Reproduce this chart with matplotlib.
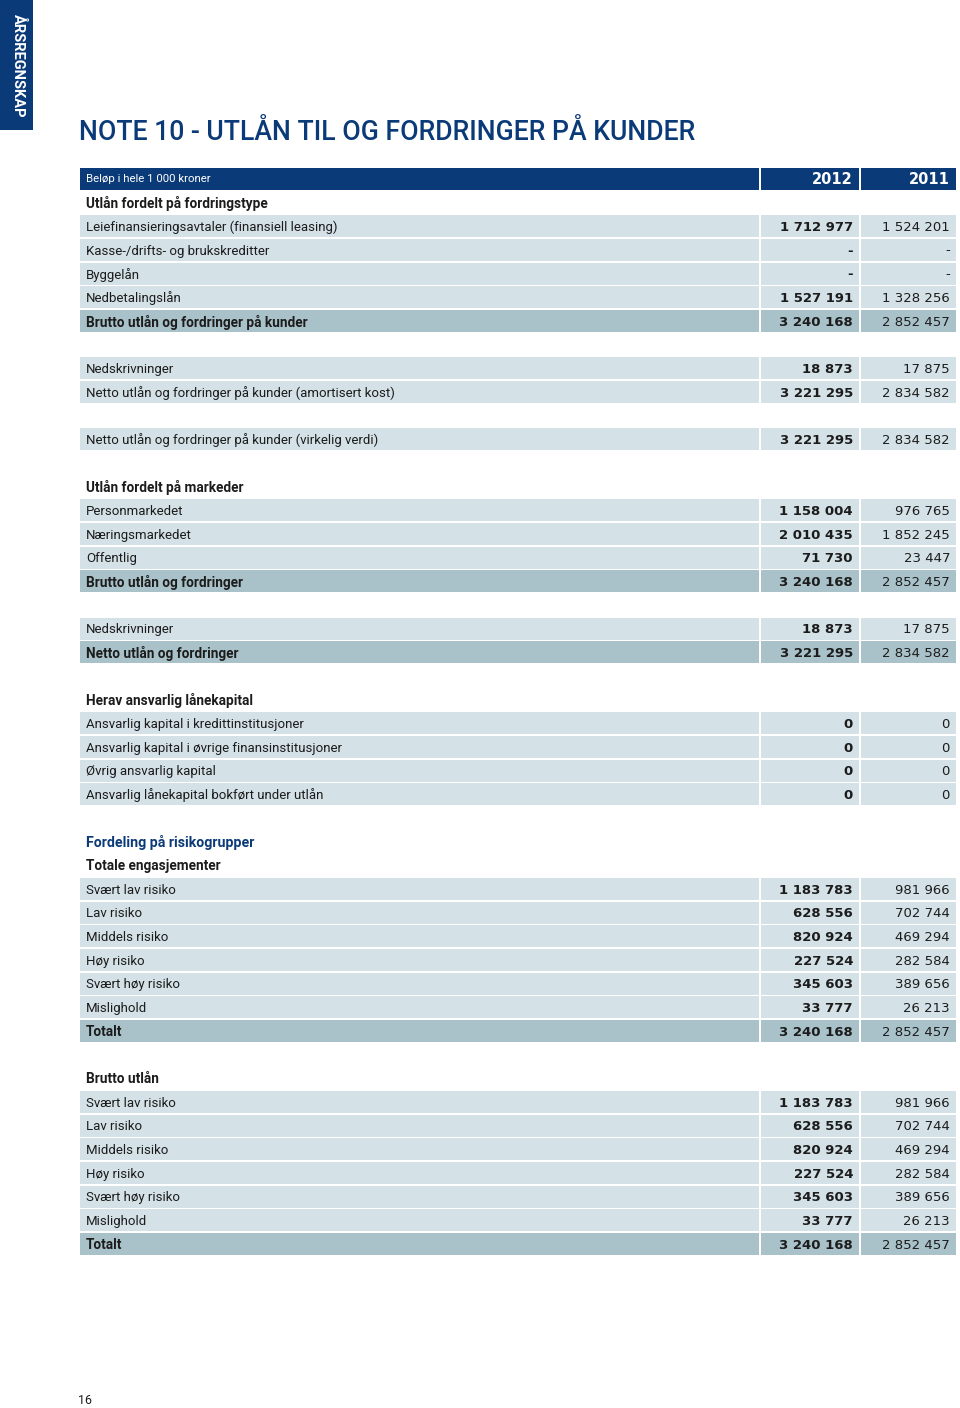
"""Note 10 - utlan til og fordringer pa kunder, gjenskapt som tabell."""

import matplotlib
matplotlib.use("Agg")
import matplotlib.pyplot as plt
from matplotlib.patches import Rectangle

plt.rcParams["font.family"] = ["Roboto", "DejaVu Sans"]

# Radtyper: "overskrift" (fet, uten bakgrunn), "bla" (bla fet overskrift),
# "rad" (lys bakgrunn), "sum" (mork bakgrunn, fet tekst), "tom" (mellomrom)
etiketter = [
    "Utlån fordelt på fordringstype",
    "Leiefinansieringsavtaler (finansiell leasing)",
    "Kasse-/drifts- og brukskreditter",
    "Byggelån",
    "Nedbetalingslån",
    "Brutto utlån og fordringer på kunder",
    "",
    "Nedskrivninger",
    "Netto utlån og fordringer på kunder (amortisert kost)",
    "",
    "Netto utlån og fordringer på kunder (virkelig verdi)",
    "",
    "Utlån fordelt på markeder",
    "Personmarkedet",
    "Næringsmarkedet",
    "Offentlig",
    "Brutto utlån og fordringer",
    "",
    "Nedskrivninger",
    "Netto utlån og fordringer",
    "",
    "Herav ansvarlig lånekapital",
    "Ansvarlig kapital i kredittinstitusjoner",
    "Ansvarlig kapital i øvrige finansinstitusjoner",
    "Øvrig ansvarlig kapital",
    "Ansvarlig lånekapital bokført under utlån",
    "",
    "Fordeling på risikogrupper",
    "Totale engasjementer",
    "Svært lav risiko",
    "Lav risiko",
    "Middels risiko",
    "Høy risiko",
    "Svært høy risiko",
    "Mislighold",
    "Totalt",
    "",
    "Brutto utlån",
    "Svært lav risiko",
    "Lav risiko",
    "Middels risiko",
    "Høy risiko",
    "Svært høy risiko",
    "Mislighold",
    "Totalt",
]

radtyper = [
    "overskrift", "rad", "rad", "rad", "rad", "sum", "tom",
    "rad", "rad", "tom",
    "rad", "tom",
    "overskrift", "rad", "rad", "rad", "sum", "tom",
    "rad", "sum", "tom",
    "overskrift", "rad", "rad", "rad", "rad", "tom",
    "bla", "overskrift", "rad", "rad", "rad", "rad", "rad", "rad", "sum", "tom",
    "overskrift", "rad", "rad", "rad", "rad", "rad", "rad", "sum",
]

verdier_2012 = [
    "", "1 712 977", "-", "-", "1 527 191", "3 240 168", "",
    "18 873", "3 221 295", "",
    "3 221 295", "",
    "", "1 158 004", "2 010 435", "71 730", "3 240 168", "",
    "18 873", "3 221 295", "",
    "", "0", "0", "0", "0", "",
    "", "", "1 183 783", "628 556", "820 924", "227 524", "345 603", "33 777", "3 240 168", "",
    "", "1 183 783", "628 556", "820 924", "227 524", "345 603", "33 777", "3 240 168",
]

verdier_2011 = [
    "", "1 524 201", "-", "-", "1 328 256", "2 852 457", "",
    "17 875", "2 834 582", "",
    "2 834 582", "",
    "", "976 765", "1 852 245", "23 447", "2 852 457", "",
    "17 875", "2 834 582", "",
    "", "0", "0", "0", "0", "",
    "", "", "981 966", "702 744", "469 294", "282 584", "389 656", "26 213", "2 852 457", "",
    "", "981 966", "702 744", "469 294", "282 584", "389 656", "26 213", "2 852 457",
]

aar = ["2012", "2011"]

MORKBLA = "#0b3a78"
LYS = "#d4e1e7"
MORK = "#a9c2ca"
TEKST = "#1c1c1c"
TALL = ["DejaVu Sans"]

fig = plt.figure(figsize=(9.6, 14.08), dpi=100)
ax = fig.add_axes([0, 0, 1, 1])
ax.set_xlim(0, 960)
ax.set_ylim(1408, 0)
ax.axis("off")

# sidefane
ax.add_patch(Rectangle((0, 0), 33, 130, color=MORKBLA, lw=0))
ax.text(17.5, 14, "ÅRSREGNSKAP", rotation=270, color="white", fontsize=10.5,
        fontweight="bold", ha="center", va="top")

ax.text(79, 132, "NOTE 10 - UTLÅN TIL OG FORDRINGER PÅ KUNDER", color=MORKBLA,
        fontsize=19.2, fontweight=500, ha="left", va="center")

# kolonner
kol_x = [(80, 679), (761, 98), (861, 95)]
rad_h = 23.67
y0 = 179
boks_h = 22

# topprad
for x, w in kol_x:
    ax.add_patch(Rectangle((x, y0 - boks_h / 2), w, boks_h, color=MORKBLA, lw=0))
ax.text(86, y0, "Beløp i hele 1 000 kroner", color="white", fontsize=8.2,
        ha="left", va="center")
for (x, w), a in zip(kol_x[1:], aar):
    ax.text(x + w - 6, y0 + 1, a, color="white", fontsize=10.5, fontweight="bold",
            family=TALL, ha="right", va="center")

for i, (etikett, typ, v12, v11) in enumerate(zip(etiketter, radtyper, verdier_2012, verdier_2011)):
    y = y0 + (i + 1) * rad_h
    if typ == "tom":
        continue
    if typ in ("overskrift", "bla"):
        farge = MORKBLA if typ == "bla" else TEKST
        ax.text(86, y + 1, etikett, color=farge, fontsize=10.2 if typ == "bla" else 9.8,
                fontweight="bold", ha="left", va="center")
        continue
    bg = MORK if typ == "sum" else LYS
    for x, w in kol_x:
        ax.add_patch(Rectangle((x, y - boks_h / 2), w, boks_h, color=bg, lw=0))
    ax.text(86, y + 1, etikett, color=TEKST, fontsize=9.8 if typ == "sum" else 9.5,
            fontweight="bold" if typ == "sum" else "normal", ha="left", va="center")
    ax.text(853, y + 1, v12, color=TEKST, fontsize=9.5, fontweight="bold",
            family=TALL, ha="right", va="center")
    ax.text(950, y + 1, v11, color=TEKST, fontsize=9.5, family=TALL,
            ha="right", va="center")

ax.text(78, 1401, "16", color=TEKST, fontsize=9, ha="left", va="center")

fig.savefig("out.png", dpi=100)
plt.close(fig)
